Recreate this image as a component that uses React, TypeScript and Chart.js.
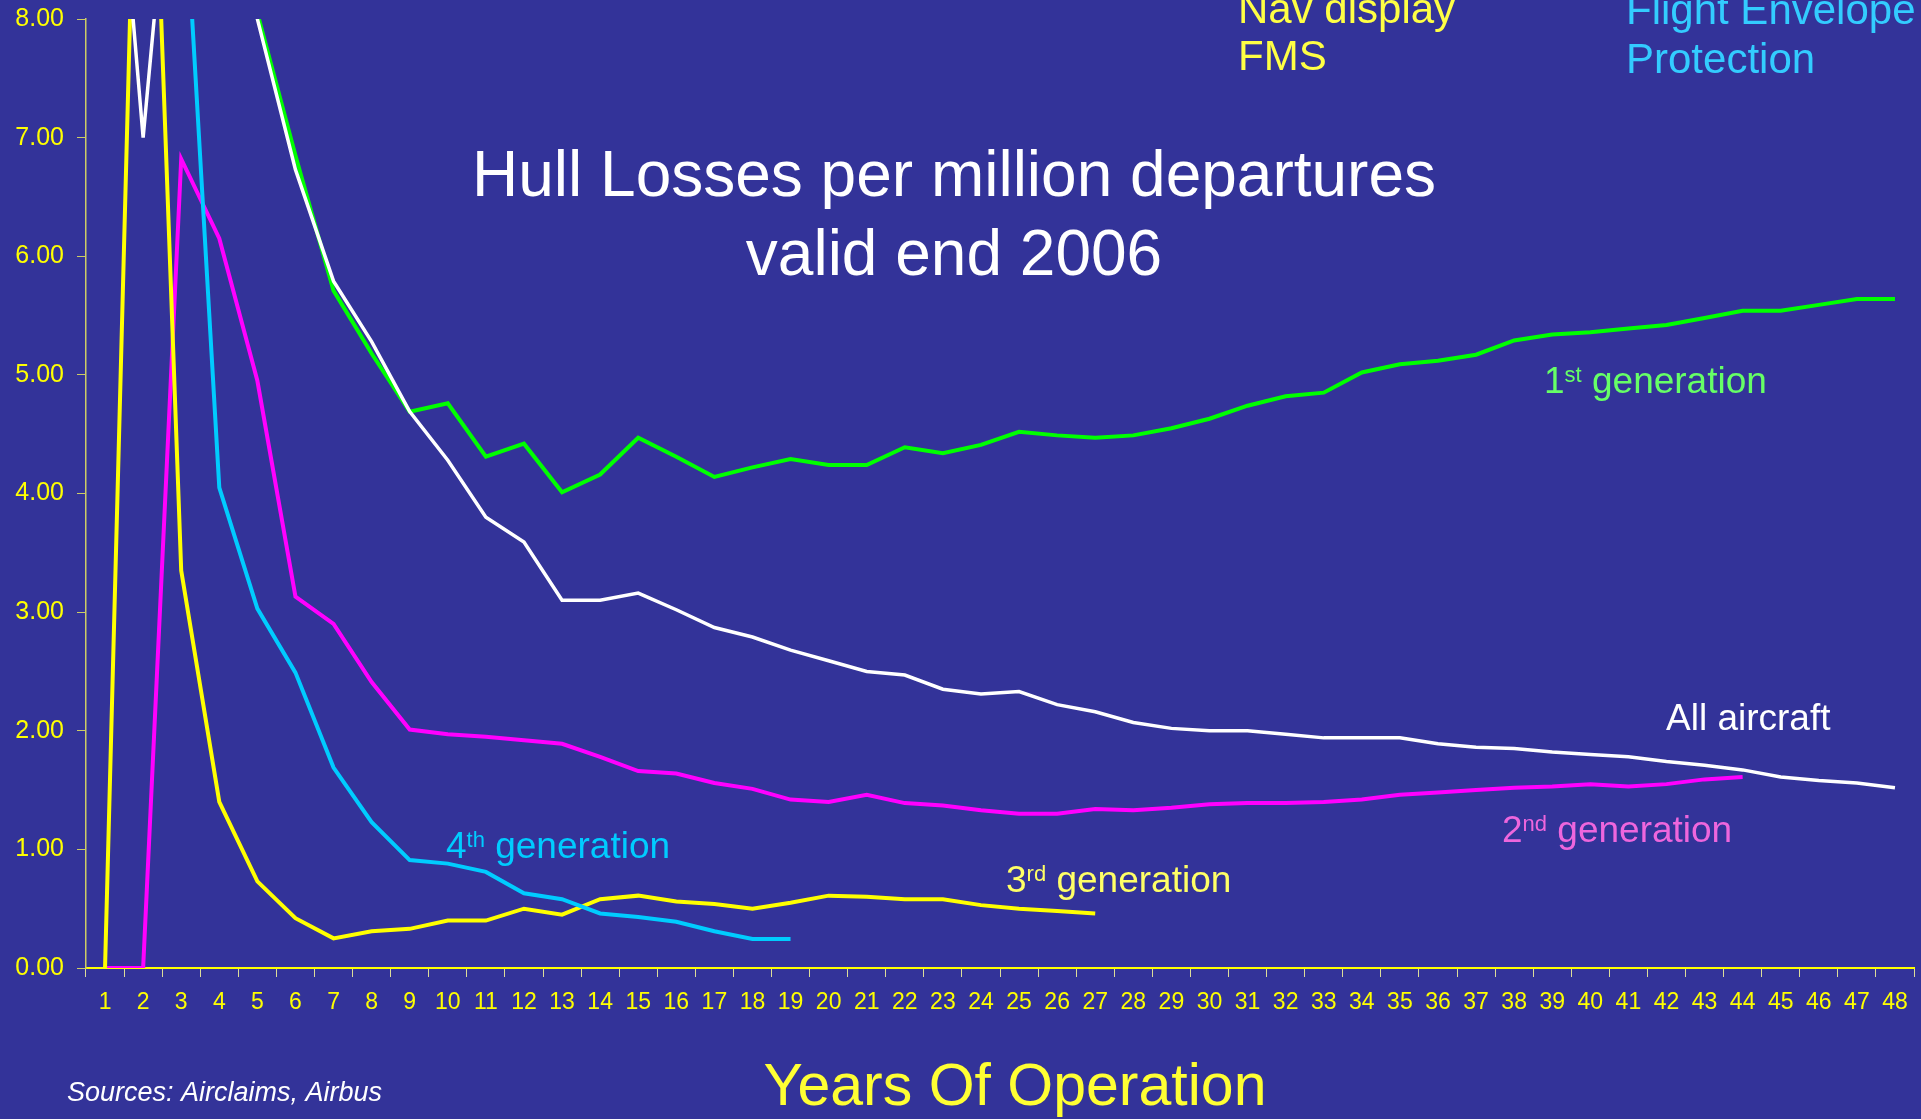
import React, { useEffect, useRef } from "react";
import { Chart, registerables } from "chart.js";

Chart.register(...registerables);

const years = [
  "1", "2", "3", "4", "5", "6", "7", "8", "9", "10", "11", "12", "13", "14", "15", "16",
  "17", "18", "19", "20", "21", "22", "23", "24", "25", "26", "27", "28", "29", "30", "31", "32",
  "33", "34", "35", "36", "37", "38", "39", "40", "41", "42", "43", "44", "45", "46", "47", "48",
];

const allAircraft = [
  10.8, 7.0, 10.45, 12, 8.0, 6.73, 5.79, 5.28, 4.69, 4.28, 3.8, 3.59, 3.1, 3.1, 3.16, 3.02,
  2.87, 2.79, 2.68, 2.59, 2.5, 2.47, 2.35, 2.31, 2.33, 2.22, 2.16, 2.07, 2.02, 2.0, 2.0, 1.97,
  1.94, 1.94, 1.94, 1.89, 1.86, 1.85, 1.82, 1.8, 1.78, 1.74, 1.71, 1.67, 1.61, 1.58, 1.56, 1.52,
];

const firstGen = [
  null, null, null, 12, 8.05, 6.85, 5.71, 5.18, 4.69, 4.76, 4.31, 4.42, 4.01, 4.16, 4.47, 4.31,
  4.14, 4.22, 4.29, 4.24, 4.24, 4.39, 4.34, 4.41, 4.52, 4.49, 4.47, 4.49, 4.55, 4.63, 4.74, 4.82,
  4.85, 5.02, 5.09, 5.12, 5.17, 5.29, 5.34, 5.36, 5.39, 5.42, 5.48, 5.54, 5.54, 5.59, 5.64, 5.64,
];

const secondGen = [
  0, 0, 6.82, 6.15, 4.95, 3.13, 2.9, 2.41, 2.01, 1.97, 1.95, 1.92, 1.89, 1.78, 1.66, 1.64,
  1.56, 1.51, 1.42, 1.4, 1.46, 1.39, 1.37, 1.33, 1.3, 1.3, 1.34, 1.33, 1.35, 1.38, 1.39, 1.39,
  1.4, 1.42, 1.46, 1.48, 1.5, 1.52, 1.53, 1.55, 1.53, 1.55, 1.59, 1.61, null, null, null, null,
];

const thirdGen = [
  0, 12.2, 3.35, 1.4, 0.73, 0.42, 0.25, 0.31, 0.33, 0.4, 0.4, 0.5, 0.45, 0.58, 0.61, 0.56,
  0.54, 0.5, 0.55, 0.61, 0.6, 0.58, 0.58, 0.53, 0.5, 0.48, 0.46, null, null, null, null, null,
  null, null, null, null, null, null, null, null, null, null, null, null, null, null, null, null,
];

const fourthGen = [
  null, null, 9.6, 4.05, 3.03, 2.49, 1.69, 1.23, 0.91, 0.88, 0.81, 0.63, 0.58, 0.46, 0.43, 0.39,
  0.31, 0.245, 0.245, null, null, null, null, null, null, null, null, null, null, null, null, null,
  null, null, null, null, null, null, null, null, null, null, null, null, null, null, null, null,
];

const yTicks = [0, 1, 2, 3, 4, 5, 6, 7, 8];

const FONT = '"Liberation Sans", Arial, Helvetica, sans-serif';
const BG = "#333399";

type Part = [string, number, number];

function drawParts(ctx: CanvasRenderingContext2D, x: number, y: number, color: string, parts: Part[]) {
  ctx.fillStyle = color;
  ctx.textAlign = "left";
  ctx.textBaseline = "alphabetic";
  let cx = x;
  for (const [text, size, dy] of parts) {
    ctx.font = `${size}px ${FONT}`;
    ctx.fillText(text, cx, y - dy);
    cx += ctx.measureText(text).width;
  }
}

const textPlugin = {
  id: "annotText",
  afterDraw(chart: any) {
    const ctx: CanvasRenderingContext2D = chart.ctx;
    ctx.save();
    // title
    ctx.fillStyle = "#ffffff";
    ctx.font = `64px ${FONT}`;
    ctx.textAlign = "center";
    ctx.textBaseline = "alphabetic";
    ctx.fillText("Hull Losses per million departures", 954, 196);
    ctx.fillText("valid end 2006", 954, 275);

    // top annotations
    ctx.textAlign = "left";
    ctx.font = `42px ${FONT}`;
    ctx.fillStyle = "#ffff44";
    ctx.fillText("Nav display", 1238, 23);
    ctx.fillText("FMS", 1238, 70);
    ctx.fillStyle = "#33ccff";
    ctx.fillText("Flight Envelope", 1626, 24);
    ctx.fillText("Protection", 1626, 73);

    // series labels
    drawParts(ctx, 1544, 393, "#66ff66", [["1", 37, 0], ["st", 22, 11], [" generation", 37, 0]]);
    drawParts(ctx, 1502, 842, "#ee66dd", [["2", 37, 0], ["nd", 22, 11], [" generation", 37, 0]]);
    drawParts(ctx, 1006, 892, "#ffff66", [["3", 37, 0], ["rd", 22, 11], [" generation", 37, 0]]);
    drawParts(ctx, 446, 858, "#00ccff", [["4", 37, 0], ["th", 22, 11], [" generation", 37, 0]]);
    drawParts(ctx, 1666, 730, "#ffffff", [["All aircraft", 37, 0]]);

    // axis title
    ctx.fillStyle = "#ffff33";
    ctx.font = `59px ${FONT}`;
    ctx.textAlign = "center";
    ctx.fillText("Years Of Operation", 1015, 1105);

    // sources
    ctx.fillStyle = "#ffffff";
    ctx.font = `italic 27px ${FONT}`;
    ctx.textAlign = "left";
    ctx.fillText("Sources: Airclaims, Airbus", 67, 1101);
    ctx.restore();
  },
};

export default function App() {
  const canvasRef = useRef<HTMLCanvasElement | null>(null);

  useEffect(() => {
    const canvas = canvasRef.current;
    if (!canvas) return;
    const mk = (data: (number | null)[], color: string, width: number) => ({
      data,
      borderColor: color,
      backgroundColor: color,
      borderWidth: width,
      pointRadius: 0,
      pointHoverRadius: 0,
      fill: false,
      tension: 0,
      spanGaps: false,
    });
    const chart = new Chart(canvas, {
      type: "line",
      data: {
        labels: years,
        datasets: [
          { label: "All aircraft", ...mk(allAircraft, "#ffffff", 3.5) },
          { label: "4th generation", ...mk(fourthGen, "#00ccff", 4) },
          { label: "3rd generation", ...mk(thirdGen, "#ffff00", 4) },
          { label: "2nd generation", ...mk(secondGen, "#ff00ff", 4) },
          { label: "1st generation", ...mk(firstGen, "#00ff00", 4) },
        ],
      },
      options: {
        animation: false,
        responsive: true,
        maintainAspectRatio: false,
        devicePixelRatio: 1,
        layout: { padding: { left: 0, right: 7, top: 19, bottom: 0 } },
        plugins: {
          legend: { display: false },
          tooltip: { enabled: false },
          title: { display: false },
        },
        events: [],
        scales: {
          x: {
            type: "category",
            offset: true,
            afterFit: (scale: any) => {
              scale.height = 151;
              scale.paddingLeft = 0;
              scale.paddingRight = 0;
            },
            grid: {
              display: true,
              drawOnChartArea: false,
              drawTicks: true,
              tickLength: 9,
              offset: true,
              color: "#dddd99",
              tickColor: "#dddd99",
            },
            border: { display: true, color: "#ffff00", width: 2 },
            ticks: {
              color: "#ffff00",
              font: { family: FONT, size: 23 },
              padding: 12,
              maxRotation: 0,
              minRotation: 0,
              autoSkip: false,
            },
          },
          y: {
            min: 0,
            max: 8,
            afterFit: (scale: any) => {
              scale.width = 86;
              scale.paddingTop = 0;
              scale.paddingBottom = 0;
            },
            afterBuildTicks: (scale: any) => {
              scale.ticks = yTicks.map((v) => ({ value: v }));
            },
            grid: {
              display: true,
              drawOnChartArea: false,
              drawTicks: true,
              tickLength: 9,
              color: "#cccc66",
              tickColor: "#cccc66",
            },
            border: { display: true, color: "#cccc66", width: 1.5 },
            ticks: {
              color: "#ffff00",
              font: { family: FONT, size: 25 },
              padding: 13,
              callback: (v: any) => Number(v).toFixed(2),
            },
          },
        },
      },
      plugins: [textPlugin],
    } as any);
    return () => chart.destroy();
  }, []);

  return (
    <div
      style={{
        position: "fixed",
        left: 0,
        top: 0,
        width: "1921px",
        height: "1119px",
        background: BG,
      }}
    >
      <canvas ref={canvasRef} />
    </div>
  );
}
